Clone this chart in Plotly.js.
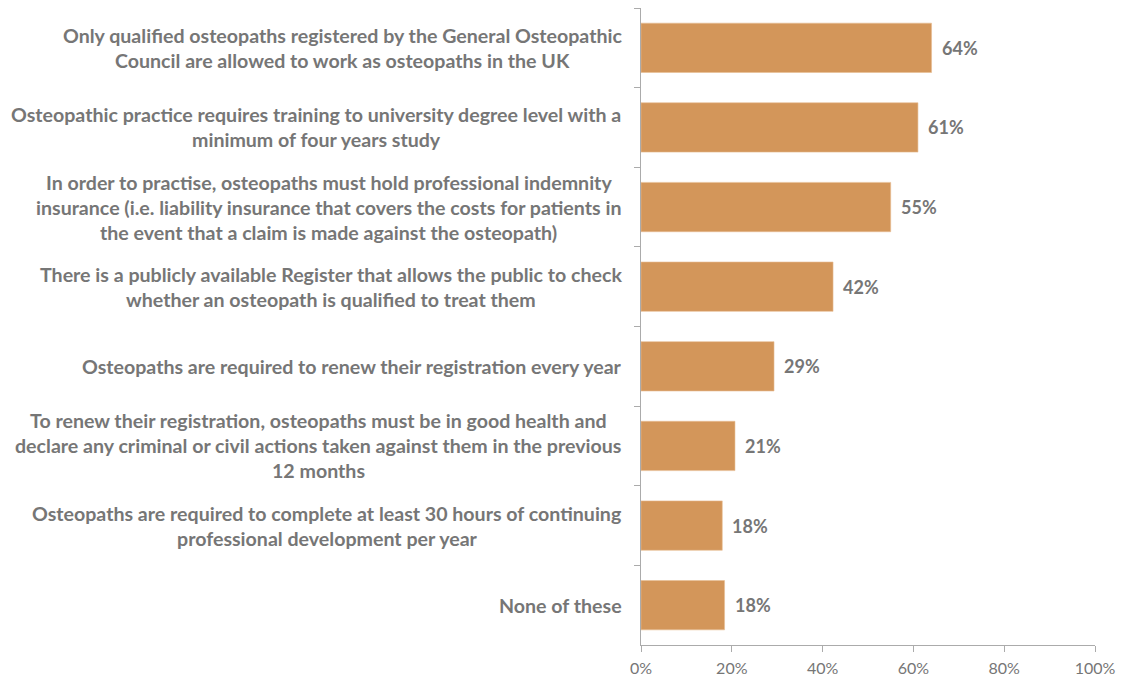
<!DOCTYPE html>
<html>
<head>
<meta charset="utf-8">
<script src="https://cdn.plot.ly/plotly-3.0.1.min.js"></script>
<style>
  html, body { margin: 0; padding: 0; background: #fff; }
  #chart { width: 1129px; height: 679px; }
</style>
</head>
<body>
<div id="chart"></div>
<script>
const categories = [
  "Only qualified osteopaths registered by the General Osteopathic<br>Council are allowed to work as osteopaths in the UK",
  "Osteopathic practice requires training to university degree level with a<br>minimum of four years study",
  "In order to practise, osteopaths must hold professional indemnity<br>insurance (i.e. liability insurance that covers the costs for patients in<br>the event that a claim is made against the osteopath)",
  "There is a publicly available Register that allows the public to check<br>whether an osteopath is qualified to treat them",
  "Osteopaths are required to renew their registration every year",
  "To renew their registration, osteopaths must be in good health and<br>declare any criminal or civil actions taken against them in the previous<br>12 months",
  "Osteopaths are required to complete at least 30 hours of continuing<br>professional development per year",
  "None of these"
];
const values = [0.640, 0.610, 0.550, 0.423, 0.293, 0.207, 0.179, 0.184];
const xTickVals = [0, 0.2, 0.4, 0.6, 0.8, 1.0];

const FONT = 'Lato';
const TEXT = '#767676';
const BAR = '#D3965A';
const AXIS = '#ABABAB';

// measure text to size/center the multi-line category labels
const cv = document.createElement('canvas').getContext('2d');
function w(txt, size) { cv.font = 'bold ' + size + 'px ' + FONT; return cv.measureText(txt).width; }
const ref = categories[1].split('<br>')[0];
const catSize = Math.round(100 * 612 / w(ref, 100) * 10) / 10;
const LINE = 25, GAP = 19;

const annotations = [];
categories.forEach((c, i) => {
  const lines = c.split('<br>');
  const maxW = Math.max(...lines.map(l => w(l, catSize)));
  lines.forEach((l, j) => {
    annotations.push({
      xref: 'paper', yref: 'y', x: 0, y: c,
      text: l, showarrow: false,
      xanchor: 'center', yanchor: 'middle',
      xshift: -GAP - maxW / 2,
      yshift: ((lines.length - 1) / 2 - j) * LINE,
      font: { family: FONT, size: catSize, color: TEXT, weight: 'bold' }
    });
  });
  annotations.push({
    xref: 'x', yref: 'y', x: values[i], y: c,
    text: Math.round(values[i] * 100) + '%', showarrow: false,
    xanchor: 'left', yanchor: 'middle', xshift: 8,
    font: { family: FONT, size: 18, color: TEXT, weight: 'bold' }
  });
});

const data = [{
  type: 'bar', orientation: 'h',
  x: values, y: categories,
  marker: { color: BAR, line: { color: '#E8BE94', width: 0.6 } },
  hoverinfo: 'skip'
}];

const layout = {
  width: 1129, height: 679,
  margin: { l: 641, r: 34, t: 8, b: 34 },
  paper_bgcolor: '#fff', plot_bgcolor: '#fff',
  showlegend: false,
  bargap: 0.38,
  xaxis: {
    range: [0, 1], tickvals: xTickVals, tickformat: '.0%',
    showgrid: false, zeroline: false,
    showline: true, linecolor: AXIS, linewidth: 1,
    ticks: 'outside', ticklen: 6, tickcolor: AXIS,
    ticklabelstandoff: 3,
    tickfont: { family: FONT, size: 16, color: TEXT },
    fixedrange: true
  },
  yaxis: {
    type: 'category', autorange: 'reversed',
    showticklabels: false, showgrid: false, zeroline: false,
    showline: true, linecolor: AXIS, linewidth: 1,
    ticks: 'outside', tickson: 'boundaries', ticklen: 6, tickcolor: AXIS,
    fixedrange: true
  },
  annotations: annotations
};

Plotly.newPlot('chart', data, layout, { displayModeBar: false, staticPlot: true });
</script>
</body>
</html>
